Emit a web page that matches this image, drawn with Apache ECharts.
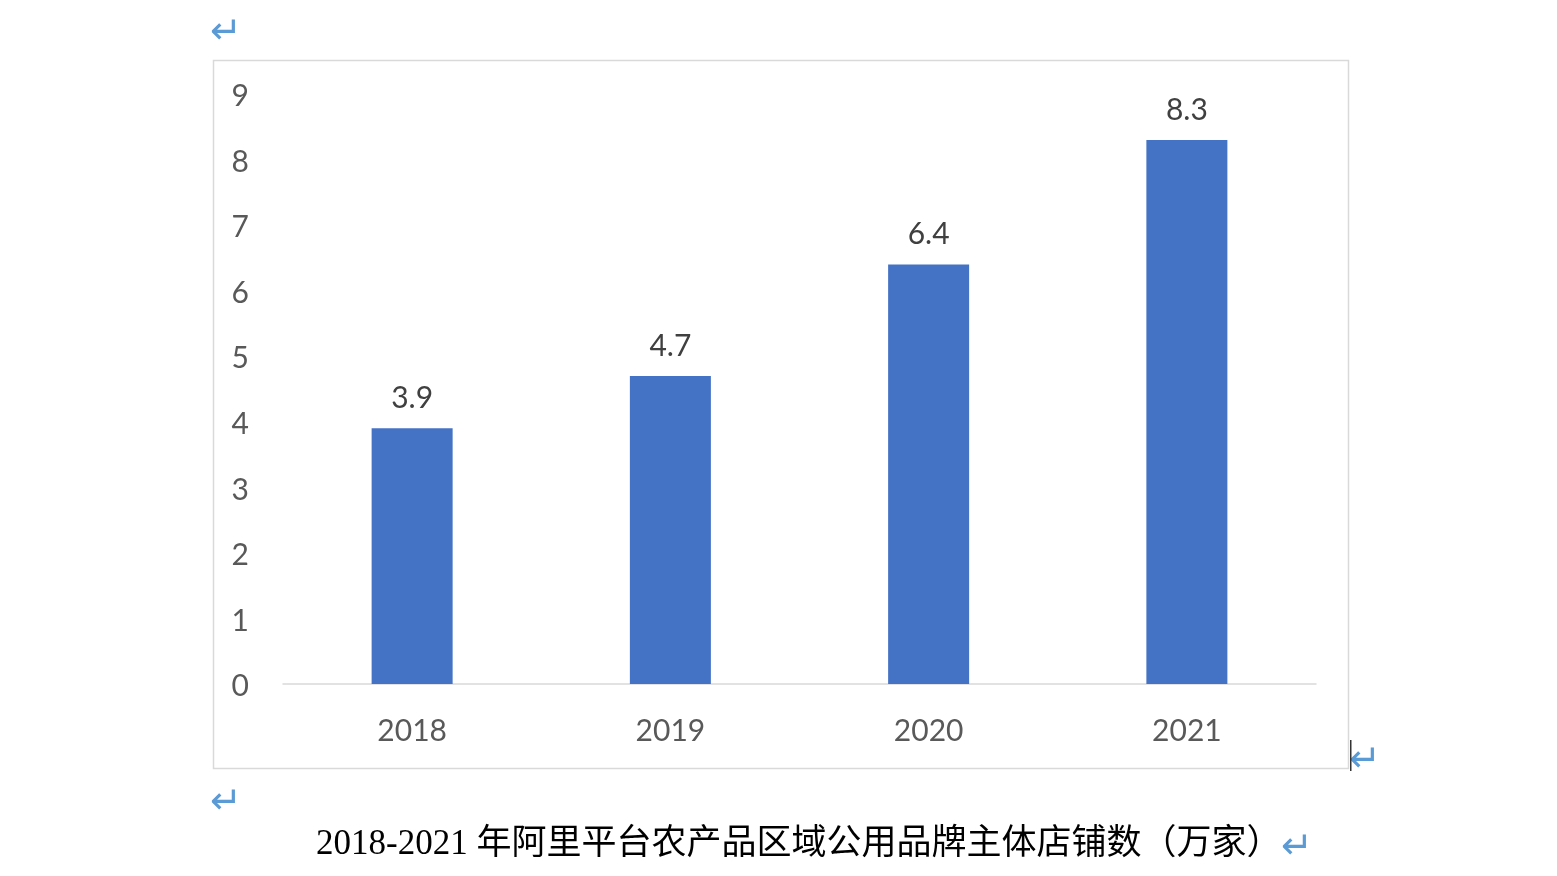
<!DOCTYPE html>
<html><head><meta charset="utf-8">
<script src="https://cdn.jsdelivr.net/npm/echarts@6/dist/echarts.min.js"></script>
<style>html,body{margin:0;padding:0;background:#fff}#c{width:1557px;height:876px}</style>
</head><body><div id="c"></div>
<script>
var categories = ['2018', '2019', '2020', '2021'];
var values = [3.9, 4.7, 6.4, 8.3];
var yMin = 0, yMax = 9, yInterval = 1;
var caption = '2018-2021 年阿里平台农产品区域公用品牌主体店铺数（万家）';

var chart = echarts.init(document.getElementById('c'));
var numFont = 'Lato, "Noto Sans", sans-serif';
var arrowColor = '#5B9BD5';
var arrowFont = '38px "DejaVu Sans"';
chart.setOption({
  animation: false,
  backgroundColor: '#ffffff',
  grid: { left: 283, right: 241, top: 94, bottom: 192 },
  xAxis: {
    type: 'category', data: categories,
    axisLine: { show: true, lineStyle: { color: '#D9D9D9', width: 1.5 } },
    axisTick: { show: false },
    axisLabel: { color: '#595959', fontSize: 30, fontFamily: numFont, margin: 32 }
  },
  yAxis: {
    type: 'value', min: yMin, max: yMax, interval: yInterval,
    axisLine: { show: false }, axisTick: { show: false },
    splitLine: { show: false },
    axisLabel: {
      color: '#595959', fontSize: 30, fontFamily: numFont, margin: 34,
      formatter: function (v) { return '{a|' + v + '}'; },
      rich: { a: { color: '#595959', fontSize: 30, fontFamily: numFont, padding: [5, 0, 0, 0] } }
    }
  },
  series: [{
    type: 'bar', data: values, barWidth: 81,
    itemStyle: { color: '#4472C4' },
    label: { show: true, position: 'top', distance: 15, color: '#404040', fontSize: 30, fontFamily: numFont }
  }],
  graphic: [
    { type: 'rect', shape: { x: 213.5, y: 60.5, width: 1135, height: 708 }, style: { fill: 'none', stroke: '#D9D9D9', lineWidth: 1.5 }, z: -1 },
    { type: 'text', left: 210, top: 14, style: { text: '↵', fill: arrowColor, font: arrowFont } },
    { type: 'text', left: 210, top: 784, style: { text: '↵', fill: arrowColor, font: arrowFont } },
    { type: 'text', left: 1349, top: 742, style: { text: '↵', fill: arrowColor, font: arrowFont } },
    { type: 'rect', shape: { x: 1350, y: 740, width: 1.5, height: 31 }, style: { fill: '#333333' } },
    { type: 'text', left: 316, top: 827, style: { text: caption, fill: '#000000', font: '35px "Liberation Serif", "Noto Sans CJK SC", serif' } },
    { type: 'text', left: 1281, top: 829, style: { text: '↵', fill: arrowColor, font: arrowFont } }
  ]
});
</script></body></html>
